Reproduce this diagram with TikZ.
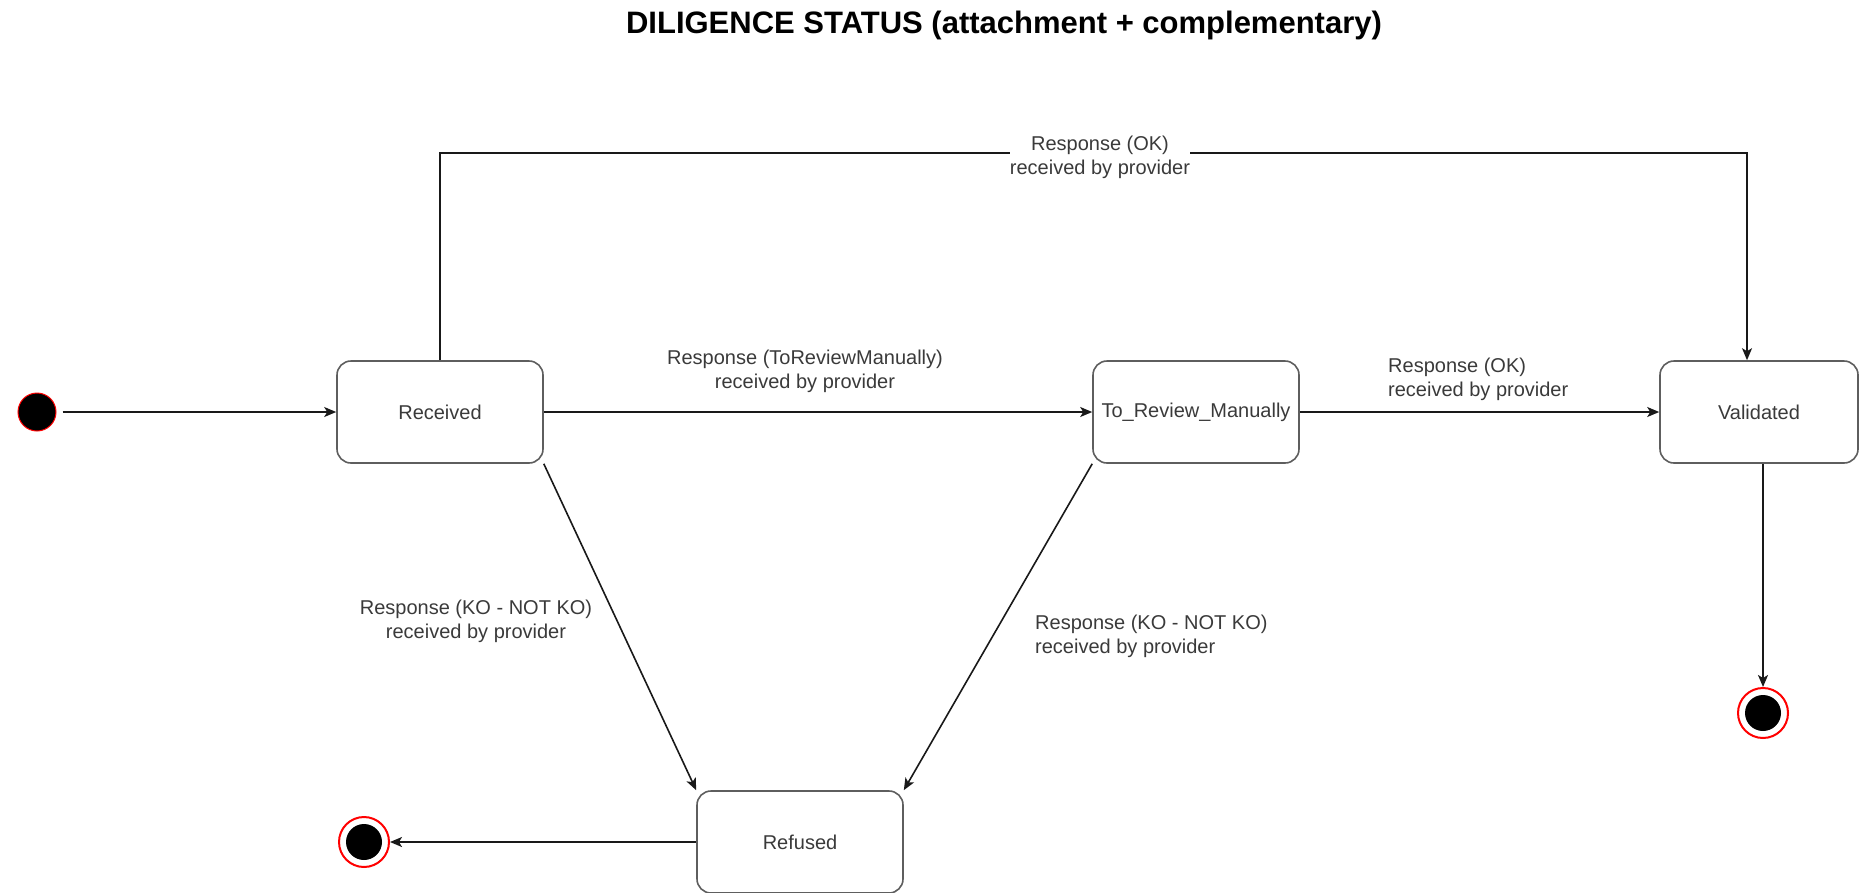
\documentclass[tikz,border=0pt]{standalone}
\usepackage{fontspec}
\setmainfont{Liberation Sans}
\usetikzlibrary{arrows.meta}
\definecolor{txt}{HTML}{3A3A3A}
\definecolor{boxline}{HTML}{5E5E5E}
\begin{document}
\begin{tikzpicture}[x=1pt,y=-1pt,
  state/.style={draw=boxline, line width=1.6pt, rounded corners=14pt, minimum width=206pt, minimum height=102pt, inner sep=0pt, text=txt, font=\fontsize{20}{24}\selectfont},
  lbl/.style={text=txt, font=\fontsize{20}{24}\selectfont, inner sep=0pt},
  trans/.style={draw=black!90, line width=1.6pt, -{Stealth[length=12pt,width=10pt,inset=3pt]}},
  initst/.style={circle, fill=black, draw=red, line width=1pt, minimum size=38pt, inner sep=0pt},
  finring/.style={circle, draw=red, line width=2pt, fill=white, minimum size=50pt, inner sep=0pt},
  findot/.style={circle, fill=black, minimum size=36pt, inner sep=0pt},
]
\useasboundingbox (0,0) rectangle (1860,892);
\node[font=\fontsize{31}{36}\bfseries\selectfont] (title) at (1004,25) {DILIGENCE STATUS (attachment + complementary)};

\node[initst] (start) at (37,412) {};
\node[state] (rec) at (440,412) {Received};
\node[state] (trm) at (1196,412) {To\_Review\_Manually};
\node[state, minimum width=198pt] (val) at (1759,412) {Validated};
\node[state] (ref) at (800,842) {Refused};

\node[finring] (fin1) at (364,842) {};
\node[findot] (fin1c) at (fin1) {};
\node[finring] (fin2) at (1763,713) {};
\node[findot] (fin2c) at (fin2) {};

\coordinate (tl) at (440,153);
\coordinate (trc) at (1747,153);

\draw[trans, shorten <=6pt] (start) -- (rec);
\draw[trans] (rec.north) -- (tl) -- (trc) -- (trc |- val.north);
\node[lbl, fill=white, align=center] (l1) at (1100,157) {Response (OK)\\received by provider};

\draw[trans] (rec) -- (trm);
\node[lbl, align=center] (l2) at (805,371) {Response (ToReviewManually)\\received by provider};

\draw[trans] (trm) -- (val);
\node[lbl, align=left, anchor=west] (l3) at (1388,379) {Response (OK)\\received by provider};

\draw[trans] (rec.south east) -- (ref.north west);
\node[lbl, align=center] (l4) at (476,621) {Response (KO - NOT KO)\\received by provider};

\draw[trans] (trm.south west) -- (ref.north east);
\node[lbl, align=left, anchor=west] (l5) at (1035,636) {Response (KO - NOT KO)\\received by provider};

\draw[trans] (val.south -| fin2) -- (fin2);
\draw[trans] (ref) -- (fin1);
\end{tikzpicture}
\end{document}
